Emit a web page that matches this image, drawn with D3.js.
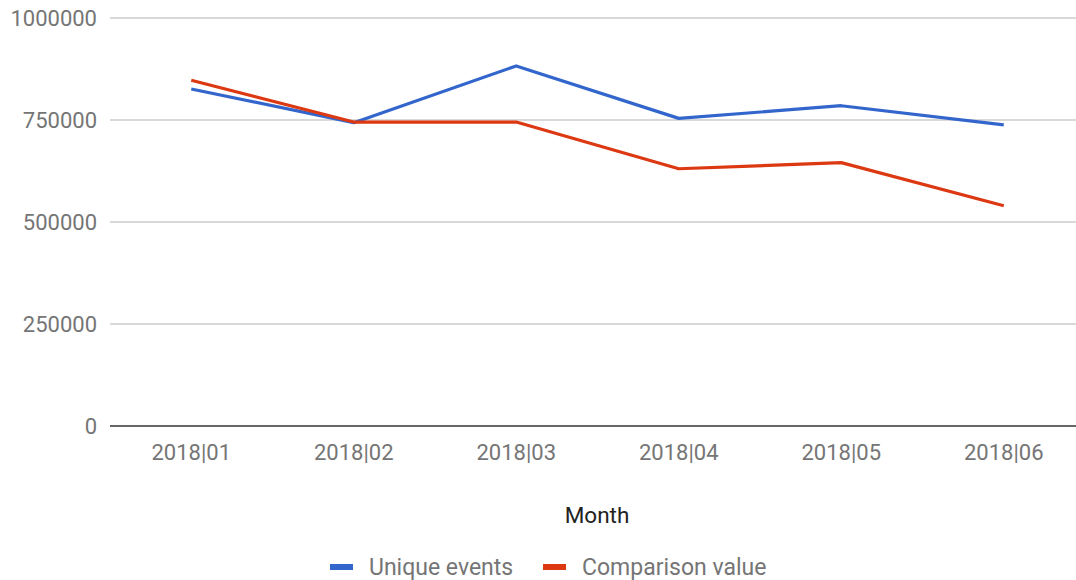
<!DOCTYPE html>
<html>
<head>
<meta charset="utf-8">
<script src="https://cdn.jsdelivr.net/npm/d3@7"></script>
<style>
  body { margin: 0; background: #fff; }
  svg { display: block; font-family: Roboto, sans-serif; }
</style>
</head>
<body>
<div id="chart"></div>
<script>
// chart data
const months = ["2018|01", "2018|02", "2018|03", "2018|04", "2018|05", "2018|06"];
const uniqueEvents = [826000, 743500, 882500, 754000, 785000, 738000];
const comparisonValue = [847500, 745000, 745000, 630500, 645500, 540000];
const yTicks = [0, 250000, 500000, 750000, 1000000];
const seriesNames = ["Unique events", "Comparison value"];
const seriesColors = ["#3366cc", "#dc3912"];

const width = 1076, height = 580;
const margin = {top: 18, right: -9, bottom: 154, left: 110};
const innerW = width - margin.left - margin.right;
const innerH = height - margin.top - margin.bottom;

const svg = d3.select("#chart").append("svg")
    .attr("width", width)
    .attr("height", height);

const g = svg.append("g")
    .attr("transform", `translate(${margin.left},${margin.top})`);

const x = d3.scalePoint()
    .domain(months)
    .range([0, innerW])
    .padding(0.5);

const y = d3.scaleLinear()
    .domain([0, 1000000])
    .range([innerH, 0]);

// gridlines
g.selectAll("line.grid")
    .data(yTicks.filter(d => d !== 0))
    .join("line")
    .attr("class", "grid")
    .attr("x1", 0)
    .attr("x2", width - margin.left)
    .attr("y1", d => y(d))
    .attr("y2", d => y(d))
    .attr("stroke", "#cccccc")
    .attr("stroke-width", 1.5);

// y labels
g.selectAll("text.ylab")
    .data(yTicks)
    .join("text")
    .attr("class", "ylab")
    .attr("x", -13)
    .attr("y", d => y(d))
    .attr("dy", "0.35em")
    .attr("text-anchor", "end")
    .attr("fill", "#757575")
    .style("font-size", "22px")
    .text(d => d);

// baseline
g.append("line")
    .attr("x1", 0)
    .attr("x2", width - margin.left)
    .attr("y1", y(0))
    .attr("y2", y(0))
    .attr("stroke", "#333333")
    .attr("stroke-width", 1.5);

// x labels
g.selectAll("text.xlab")
    .data(months)
    .join("text")
    .attr("class", "xlab")
    .attr("x", d => x(d))
    .attr("y", y(0) + 34)
    .attr("text-anchor", "middle")
    .attr("fill", "#757575")
    .style("font-size", "22px")
    .text(d => d);

// x title
svg.append("text")
    .attr("x", 597)
    .attr("y", 523)
    .attr("text-anchor", "middle")
    .attr("fill", "#222222")
    .style("font-size", "22.5px")
    .text("Month");

// lines
const line = d3.line()
    .x((d, i) => x(months[i]))
    .y(d => y(d));

[uniqueEvents, comparisonValue].forEach((s, i) => {
    g.append("path")
        .datum(s)
        .attr("fill", "none")
        .attr("stroke", seriesColors[i])
        .attr("stroke-width", 3.2)
        .attr("stroke-linejoin", "round")
        .attr("d", line);
});

// legend
const legendX = [330, 543];
const leg = svg.selectAll("g.legend")
    .data(seriesNames)
    .join("g")
    .attr("class", "legend")
    .attr("transform", (d, i) => `translate(${legendX[i]},567)`);

leg.append("rect")
    .attr("x", 0)
    .attr("y", -3)
    .attr("width", 23)
    .attr("height", 6)
    .attr("fill", (d, i) => seriesColors[i]);

leg.append("text")
    .attr("x", 39)
    .attr("dy", "0.35em")
    .attr("fill", "#757575")
    .style("font-size", "23px")
    .text(d => d);
</script>
</body>
</html>
